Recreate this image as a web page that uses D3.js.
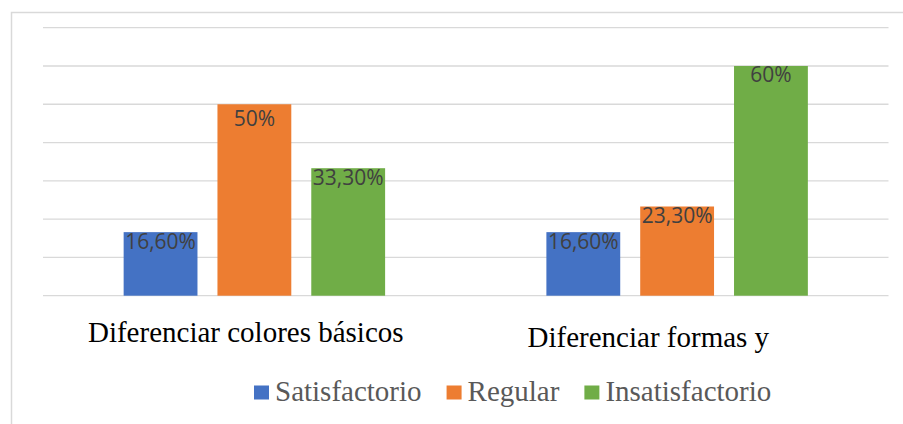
<!DOCTYPE html>
<html>
<head>
<meta charset="utf-8">
<script src="https://cdn.jsdelivr.net/npm/d3@7"></script>
<style>
  html, body { margin: 0; padding: 0; background: #ffffff; }
  svg { display: block; }
</style>
</head>
<body>
<svg id="chart" width="903" height="424"></svg>
<script>
// ---- data ----
const categories = ["Diferenciar colores básicos", "Diferenciar formas y"];
const series = ["Satisfactorio", "Regular", "Insatisfactorio"];
const satisfactorio = [16.6, 16.6];
const regular = [50, 23.3];
const insatisfactorio = [33.3, 60];
const satisfactorioLabels = ["16,60%", "16,60%"];
const regularLabels = ["50%", "23,30%"];
const insatisfactorioLabels = ["33,30%", "60%"];
const gridValues = [0, 10, 20, 30, 40, 50, 60, 70];

const seriesValues = [satisfactorio, regular, insatisfactorio];
const seriesLabels = [satisfactorioLabels, regularLabels, insatisfactorioLabels];
const colors = ["#4472c4", "#ed7d31", "#70ad47"];

// ---- layout ----
const plot = { left: 43, right: 888.5, top: 27.7, bottom: 295.7 };
const serif = '"Liberation Serif", serif';

const svg = d3.select("#chart");

// chart border
svg.append("rect")
  .attr("x", 11.5).attr("y", 12.5)
  .attr("width", 905).attr("height", 425)
  .attr("fill", "#ffffff")
  .attr("stroke", "#d9d9d9").attr("stroke-width", 1.5);

const y = d3.scaleLinear().domain([0, 70]).range([plot.bottom, plot.top]);
const x0 = d3.scaleBand().domain(categories)
  .range([plot.left, plot.right])
  .paddingInner(0.3815).paddingOuter(0.19075);
const x1 = d3.scaleBand().domain(series)
  .range([0, x0.bandwidth()])
  .paddingInner(0.213).paddingOuter(0);

// gridlines
svg.append("g").selectAll("line")
  .data(gridValues).join("line")
  .attr("x1", plot.left).attr("x2", plot.right)
  .attr("y1", d => y(d)).attr("y2", d => y(d))
  .attr("stroke", "#d9d9d9").attr("stroke-width", 1.3);

// bars
const rows = [];
categories.forEach((c, ci) => {
  series.forEach((s, si) => {
    rows.push({ cat: c, ser: s, si, value: seriesValues[si][ci], label: seriesLabels[si][ci] });
  });
});

const bars = svg.append("g");
bars.selectAll("rect")
  .data(rows).join("rect")
  .attr("x", d => x0(d.cat) + x1(d.ser))
  .attr("y", d => y(d.value))
  .attr("width", x1.bandwidth())
  .attr("height", d => y(0) - y(d.value))
  .attr("fill", d => colors[d.si]);

// data labels
bars.selectAll("text")
  .data(rows).join("text")
  .attr("x", d => x0(d.cat) + x1(d.ser) + x1.bandwidth() / 2)
  .attr("y", d => y(d.value) + (d.label === "50%" ? 22 : 16.5))
  .attr("text-anchor", "middle")
  .style("font-family", '"Open Sans", sans-serif')
  .style("font-size", "21px")
  .attr("fill", "#404040")
  .text(d => d.label);

// category labels
const catShift = [{ dx: -8.6, y: 341.7 }, { dx: -28.8, y: 346.7 }];
svg.append("g").selectAll("text")
  .data(categories).join("text")
  .attr("x", (d, i) => x0(d) + x0.bandwidth() / 2 + catShift[i].dx)
  .attr("y", (d, i) => catShift[i].y)
  .attr("text-anchor", "middle")
  .style("font-family", serif)
  .style("font-size", "29px")
  .attr("fill", "#000000")
  .text(d => d);

// legend
const legend = svg.append("g");
let lx = 254;
series.forEach((s, i) => {
  legend.append("rect")
    .attr("x", lx).attr("y", 385.5)
    .attr("width", 15).attr("height", 14)
    .attr("fill", colors[i]);
  const t = legend.append("text")
    .attr("x", lx + 21).attr("y", 401)
    .style("font-family", serif)
    .style("font-size", "29px")
    .attr("fill", "#595959")
    .text(s);
  lx += 21 + t.node().getComputedTextLength() + 25;
});
</script>
</body>
</html>
